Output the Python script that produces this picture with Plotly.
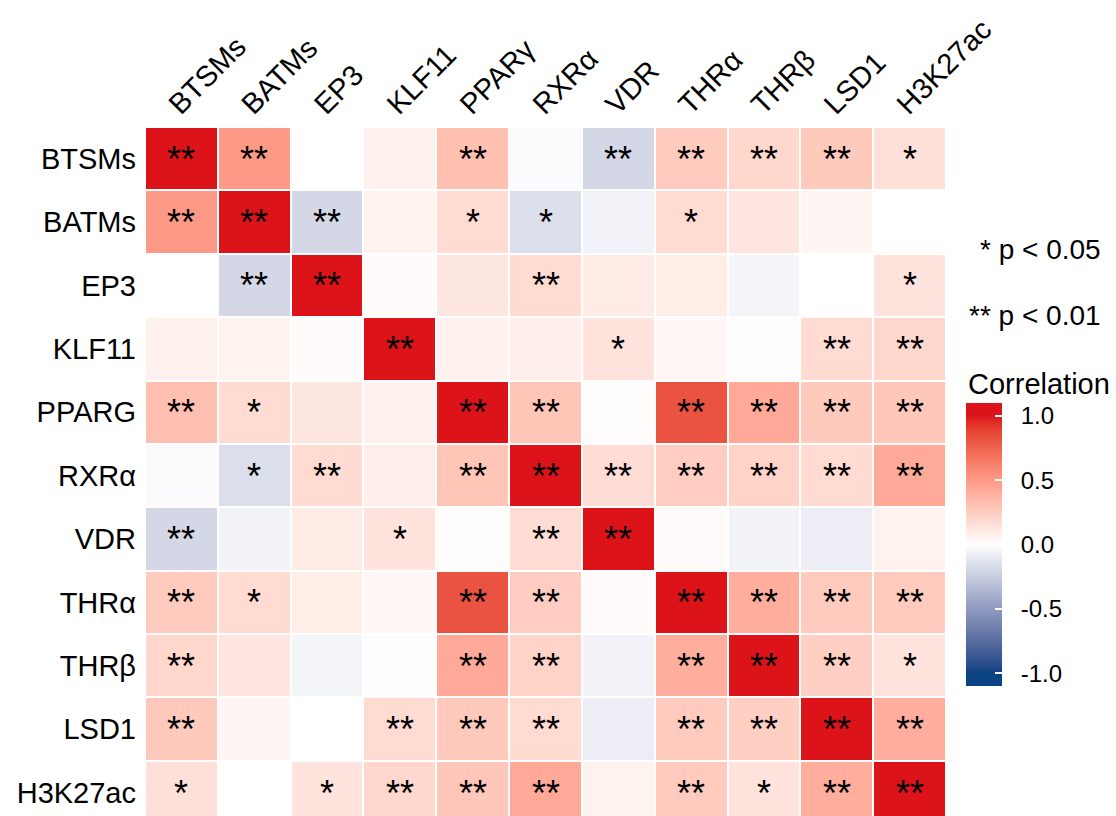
import numpy as np
import plotly.graph_objects as go

# Gene / feature labels
x_labels = ["BTSMs", "BATMs", "EP3", "KLF11", "PPARγ", "RXRα", "VDR", "THRα", "THRβ", "LSD1", "H3K27ac"]
y_labels = ["BTSMs", "BATMs", "EP3", "KLF11", "PPARG", "RXRα", "VDR", "THRα", "THRβ", "LSD1", "H3K27ac"]

# Pairwise correlation coefficients (rows follow y_labels, columns follow x_labels)
corr = [
    [1.00, 0.50, 0.00, 0.07, 0.32, -0.02, -0.19, 0.26, 0.20, 0.27, 0.15],
    [0.50, 1.00, -0.19, 0.06, 0.18, -0.16, -0.06, 0.18, 0.13, 0.05, 0.00],
    [0.00, -0.19, 1.00, 0.02, 0.12, 0.18, 0.10, 0.09, -0.05, 0.00, 0.14],
    [0.07, 0.06, 0.02, 1.00, 0.07, 0.08, 0.14, 0.04, -0.01, 0.18, 0.20],
    [0.32, 0.18, 0.12, 0.07, 1.00, 0.29, 0.01, 0.82, 0.42, 0.27, 0.28],
    [-0.02, -0.16, 0.18, 0.08, 0.29, 1.00, 0.17, 0.25, 0.22, 0.18, 0.42],
    [-0.19, -0.06, 0.10, 0.14, 0.01, 0.17, 1.00, 0.02, -0.06, -0.08, 0.06],
    [0.26, 0.18, 0.09, 0.04, 0.82, 0.25, 0.02, 1.00, 0.40, 0.26, 0.26],
    [0.20, 0.13, -0.05, -0.01, 0.42, 0.22, -0.06, 0.40, 1.00, 0.24, 0.14],
    [0.27, 0.05, 0.00, 0.18, 0.27, 0.18, -0.08, 0.26, 0.24, 1.00, 0.40],
    [0.15, 0.00, 0.14, 0.20, 0.28, 0.42, 0.06, 0.26, 0.14, 0.40, 1.00],
]

# Significance marks: "*" p < 0.05, "**" p < 0.01
signif = [
    ["**", "**", "", "", "**", "", "**", "**", "**", "**", "*"],
    ["**", "**", "**", "", "*", "*", "", "*", "", "", ""],
    ["", "**", "**", "", "", "**", "", "", "", "", "*"],
    ["", "", "", "**", "", "", "*", "", "", "**", "**"],
    ["**", "*", "", "", "**", "**", "", "**", "**", "**", "**"],
    ["", "*", "**", "", "**", "**", "**", "**", "**", "**", "**"],
    ["**", "", "", "*", "", "**", "**", "", "", "", ""],
    ["**", "*", "", "", "**", "**", "", "**", "**", "**", "**"],
    ["**", "", "", "", "**", "**", "", "**", "**", "**", "*"],
    ["**", "", "", "**", "**", "**", "", "**", "**", "**", "**"],
    ["*", "", "*", "**", "**", "**", "", "**", "*", "**", "**"],
]

cbar_ticks = [-1.0, -0.5, 0.0, 0.5, 1.0]

LOW, MID, HIGH = "#0A4282", "#FFFFFF", "#DC141A"
ZLIM = 1.1
FONT = "Liberation Sans, Arial, sans-serif"


# --- diverging colour scale interpolated in CIELAB ---------------------------
def hex_to_rgb(h):
    h = h.lstrip("#")
    return np.array([int(h[i:i + 2], 16) for i in (0, 2, 4)], dtype=float) / 255.0


def rgb_to_lab(rgb):
    c = np.where(rgb > 0.04045, ((rgb + 0.055) / 1.055) ** 2.4, rgb / 12.92)
    m = np.array([[0.4124, 0.3576, 0.1805],
                  [0.2126, 0.7152, 0.0722],
                  [0.0193, 0.1192, 0.9505]])
    xyz = m @ c / np.array([0.95047, 1.0, 1.08883])
    f = np.where(xyz > 0.008856, np.cbrt(xyz), 7.787 * xyz + 16 / 116)
    return np.array([116 * f[1] - 16, 500 * (f[0] - f[1]), 200 * (f[1] - f[2])])


def lab_to_rgb(lab):
    fy = (lab[0] + 16) / 116
    fx = fy + lab[1] / 500
    fz = fy - lab[2] / 200
    f = np.array([fx, fy, fz])
    xyz = np.where(f ** 3 > 0.008856, f ** 3, (f - 16 / 116) / 7.787)
    xyz = xyz * np.array([0.95047, 1.0, 1.08883])
    m = np.array([[3.2406, -1.5372, -0.4986],
                  [-0.9689, 1.8758, 0.0415],
                  [0.0557, -0.2040, 1.0570]])
    c = m @ xyz
    c = np.where(c > 0.0031308, 1.055 * np.clip(c, 0, None) ** (1 / 2.4) - 0.055, 12.92 * c)
    c = np.clip(c, 0, 1)
    return "rgb({:.0f},{:.0f},{:.0f})".format(*(c * 255))


lab_low, lab_mid, lab_high = (rgb_to_lab(hex_to_rgb(h)) for h in (LOW, MID, HIGH))
colorscale = []
for frac in np.linspace(0, 1, 45):
    v = np.clip(-ZLIM + 2 * ZLIM * frac, -1, 1)
    if v < 0:
        lab = lab_mid + (lab_low - lab_mid) * (-v)
    else:
        lab = lab_mid + (lab_high - lab_mid) * v
    colorscale.append([float(frac), lab_to_rgb(lab)])

# --- layout geometry (pixels) ----------------------------------------------
W, H = 1116, 816
ML, MT = 145, 127
PW, PH = W - ML, H - MT
grid_right = 946
cb_left, cb_top, cb_bottom = 966, 403, 686


def px_x(px):
    return (px - ML) / PW


def px_y(py):
    return (H - py) / PH


# non-breaking spaces keep the colourbar labels clear of the bar
cbar_ticktext = ["\u00a0\u00a0" + f"{v:.1f}" for v in cbar_ticks]

fig = go.Figure(
    go.Heatmap(
        z=corr,
        x=x_labels,
        y=y_labels,
        text=signif,
        texttemplate="%{text}",
        textfont=dict(family=FONT, size=36, color="black"),
        colorscale=colorscale,
        zmin=-ZLIM,
        zmax=ZLIM,
        xgap=2,
        ygap=2,
        hovertemplate="%{y} – %{x}<br>r = %{z:.2f}<extra></extra>",
        colorbar=dict(
            x=px_x(cb_left),
            xanchor="left",
            xpad=0,
            ypad=0,
            y=px_y((cb_top + cb_bottom) / 2),
            yanchor="middle",
            len=cb_bottom - cb_top,
            lenmode="pixels",
            thickness=36,
            thicknessmode="pixels",
            outlinewidth=0,
            tickmode="array",
            tickvals=cbar_ticks,
            ticktext=cbar_ticktext,
            ticks="inside",
            ticklen=7,
            tickwidth=1.5,
            tickcolor="white",
            tickfont=dict(family=FONT, size=24, color="black"),
        ),
    )
)

fig.update_layout(
    width=W,
    height=H,
    margin=dict(l=ML, r=0, t=MT, b=0, autoexpand=False),
    paper_bgcolor="white",
    plot_bgcolor="white",
    font=dict(family=FONT, color="black"),
    xaxis=dict(
        domain=[0, px_x(grid_right)],
        side="top",
        tickangle=-45,
        tickfont=dict(family=FONT, size=29, color="black"),
        ticklabelshift=-11,
        showgrid=False,
        zeroline=False,
        showline=False,
        ticks="",
        automargin=False,
    ),
    yaxis=dict(
        range=[10.37, -0.5],
        tickfont=dict(family=FONT, size=29, color="black"),
        showgrid=False,
        zeroline=False,
        showline=False,
        ticks="",
        ticklabelstandoff=8,
        automargin=False,
    ),
    annotations=[
        dict(text="* p < 0.05", xref="paper", yref="paper", x=px_x(1103), y=px_y(249),
             xanchor="right", yanchor="middle", showarrow=False,
             font=dict(family=FONT, size=28, color="black")),
        dict(text="** p < 0.01", xref="paper", yref="paper", x=px_x(1103), y=px_y(315),
             xanchor="right", yanchor="middle", showarrow=False,
             font=dict(family=FONT, size=28, color="black")),
        dict(text="Correlation", xref="paper", yref="paper", x=px_x(cb_left), y=px_y(384),
             xanchor="left", yanchor="middle", showarrow=False,
             font=dict(family=FONT, size=29, color="black")),
    ],
)

fig.write_html("out.html")
